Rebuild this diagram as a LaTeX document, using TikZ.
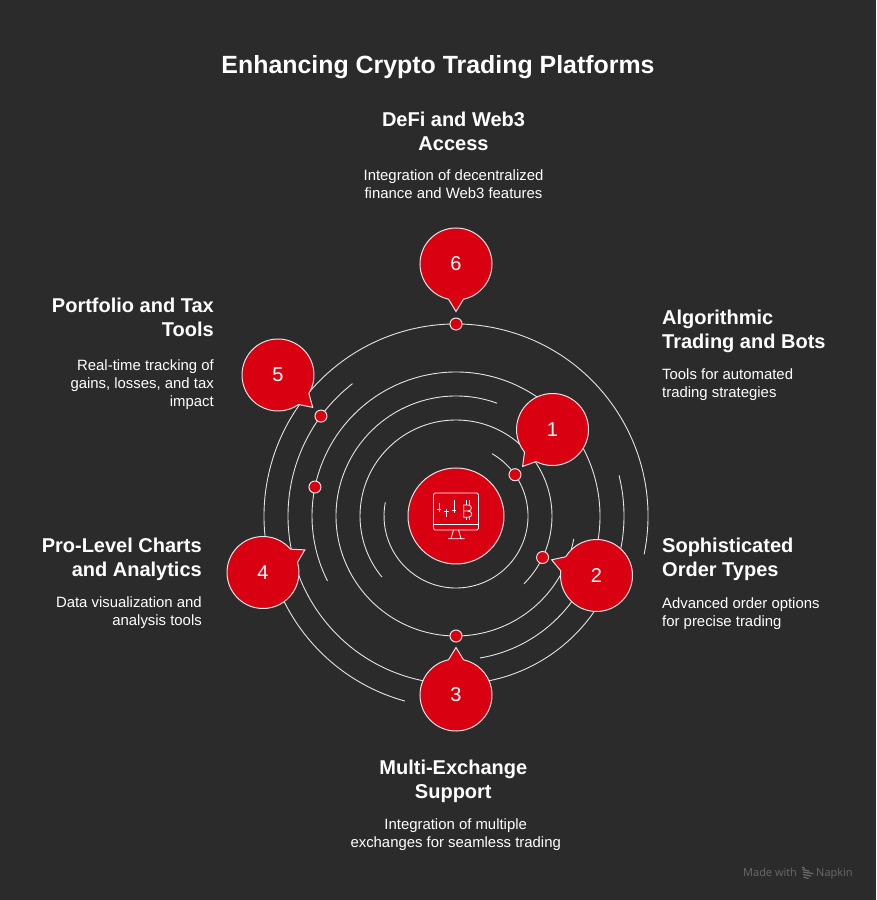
\documentclass[tikz,border=0pt]{standalone}
\usepackage{fontspec}
\setmainfont{Liberation Sans}
\newfontfamily\footfont{Open Sans}
\usetikzlibrary{positioning,calc}

\definecolor{slatebg}{HTML}{2B2B2B}
\definecolor{pinred}{HTML}{D90012}
\definecolor{ringline}{HTML}{E4E4E4}
\definecolor{footgray}{HTML}{6A6A6A}

\tikzset{
  ringarc/.style = {draw=ringline, line width=0.9pt},
  pinbody/.style = {fill=pinred, draw=ringline, line width=1pt, line join=miter},
  pinlabel/.style = {circle, minimum size=60pt, inner sep=0pt, text=white, font=\fontsize{20}{24}\selectfont},
  ringdot/.style = {circle, minimum size=12pt, inner sep=0pt, fill=pinred, draw=ringline, line width=1pt},
  hubdisc/.style = {circle, minimum size=96pt, inner sep=0pt, fill=pinred, draw=ringline, line width=1pt},
  iconline/.style = {draw=white, line width=0.8pt},
  headtext/.style = {inner sep=0pt, text=white, font=\bfseries\fontsize{20}{24}\selectfont},
  bodytext/.style = {inner sep=0pt, text=white, font=\fontsize{14.9}{18}\selectfont}
}

\begin{document}
\begin{tikzpicture}[x=1pt, y=1pt]
    \fill[slatebg] (0,0) rectangle (876,900);
    \useasboundingbox (0,0) rectangle (876,900);
    \coordinate (hub) at (456,384);

    % rings: radius, first angle, last angle
    \foreach \r/\a/\b in {72/60/-191, 96/-45/219.5, 120/70/349, 144/-80.4/206.8, 168/128/374, 192/-11.5/254.6}
      \path[ringarc] (hub) ++(\a:\r) arc[start angle=\a, end angle=\b, radius=\r];

    \foreach \n/\r/\a in {1/72/35, 2/96/-25.6, 3/120/-90, 4/144/168.4, 5/168/143.5, 6/192/90}
      \node[ringdot] (dot\n) at ($(hub)+(\a:\r)$) {};

    % pins: number, centre, direction of the tail
    \foreach \n/\x/\y/\a in {1/552.5/470.5/-129, 2/596.5/324.5/160.7, 3/456/205/90,
                             4/263/327.5/28.4, 5/278/525/-43, 6/456/636/-90} {
      \pgfmathsetmacro{\st}{\a+12}
      \pgfmathsetmacro{\en}{\a+348}
      \path[pinbody] (\x,\y) ++(\st:36) arc[start angle=\st, end angle=\en, radius=36]
        -- ($(\x,\y)+(\a:47.5)$) -- cycle;
      \node[pinlabel] (pin\n) at (\x,\y) {\n};
    }

    \node[hubdisc] (hubcircle) at (hub) {};

    % monitor icon
    \draw[iconline, rounded corners=1.5pt] (433.5,407) rectangle (478.5,370);
    \draw[iconline] (433.5,376) -- (478.5,376);
    \draw[iconline] (453.5,370) -- (451,361.5) (458.5,370) -- (461,361.5) (448,361.3) -- (464.5,361.3);
    \draw[iconline] (439,397) -- (439,388) (436.8,391) -- (441.2,391);
    \draw[iconline] (446.3,391) -- (446.3,382.5) (444.1,389) -- (448.5,389);
    \draw[iconline] (454,400) -- (454,387) (451.8,390) -- (456.2,390);
    \draw[iconline] (463.7,395) -- (468,395) .. controls (472.5,395) and (472.5,389) .. (468,389) -- (463.7,389);
    \draw[iconline] (468,389) .. controls (473,389) and (473,382.7) .. (468,382.7) -- (463.7,382.7) -- (463.7,395);
    \draw[iconline] (466,395) -- (466,400) (469,395) -- (469,400) (466,382.7) -- (466,380) (469,382.7) -- (469,380);

    \node[inner sep=0pt, text=white, font=\bfseries\fontsize{24.9}{28}\selectfont] (title) at (438,832.7) {Enhancing Crypto Trading Platforms};

    \node[headtext, align=center] (head6) at (453.5,769) {DeFi and Web3\\Access};
    \node[bodytext, align=center, below=19pt of head6] (body6) {Integration of decentralized\\finance and Web3 features};

    \node[headtext, align=left, anchor=north west] (head1) at (662,590.5) {Algorithmic\\Trading and Bots};
    \node[bodytext, align=left, below=16pt of head1.south west, anchor=north west] (body1) {Tools for automated\\trading strategies};

    \node[headtext, align=left, anchor=north west] (head2) at (662,362) {Sophisticated\\Order Types};
    \node[bodytext, align=left, below=16pt of head2.south west, anchor=north west] (body2) {Advanced order options\\for precise trading};

    \node[headtext, align=center] (head3) at (453.3,119) {Multi-Exchange\\Support};
    \node[bodytext, align=center, below=16pt of head3, xshift=2.4pt] (body3) {Integration of multiple\\exchanges for seamless trading};

    \node[headtext, align=right, anchor=north east] (head4) at (202,362) {Pro-Level Charts\\and Analytics};
    \node[bodytext, align=right, below=15.5pt of head4.south east, anchor=north east] (body4) {Data visualization and\\analysis tools};

    \node[headtext, align=right, anchor=north east] (head5) at (214,602) {Portfolio and Tax\\Tools};
    \node[bodytext, align=right, below=22.5pt of head5.south east, anchor=north east] (body5) {Real-time tracking of\\gains, losses, and tax\\impact};

    % footer mark
    \node[inner sep=0pt, anchor=base west, text=footgray, font=\footfont\fontsize{11}{13}\selectfont] (madewith) at (743,23.5) {Made with};
    \node[inner sep=0pt, anchor=base west, text=footgray, font=\footfont\fontsize{11}{13}\selectfont] (napkin) at (816,23.5) {Napkin};
    \foreach \y/\w in {33/3, 30.5/7, 28/10.5, 25.5/8, 23/5}
      \draw[footgray, line width=1.2pt] ($(802,\y)+(0.16*33-0.16*\y,0)$) -- ++(\w,-1.6);
\end{tikzpicture}
\end{document}
